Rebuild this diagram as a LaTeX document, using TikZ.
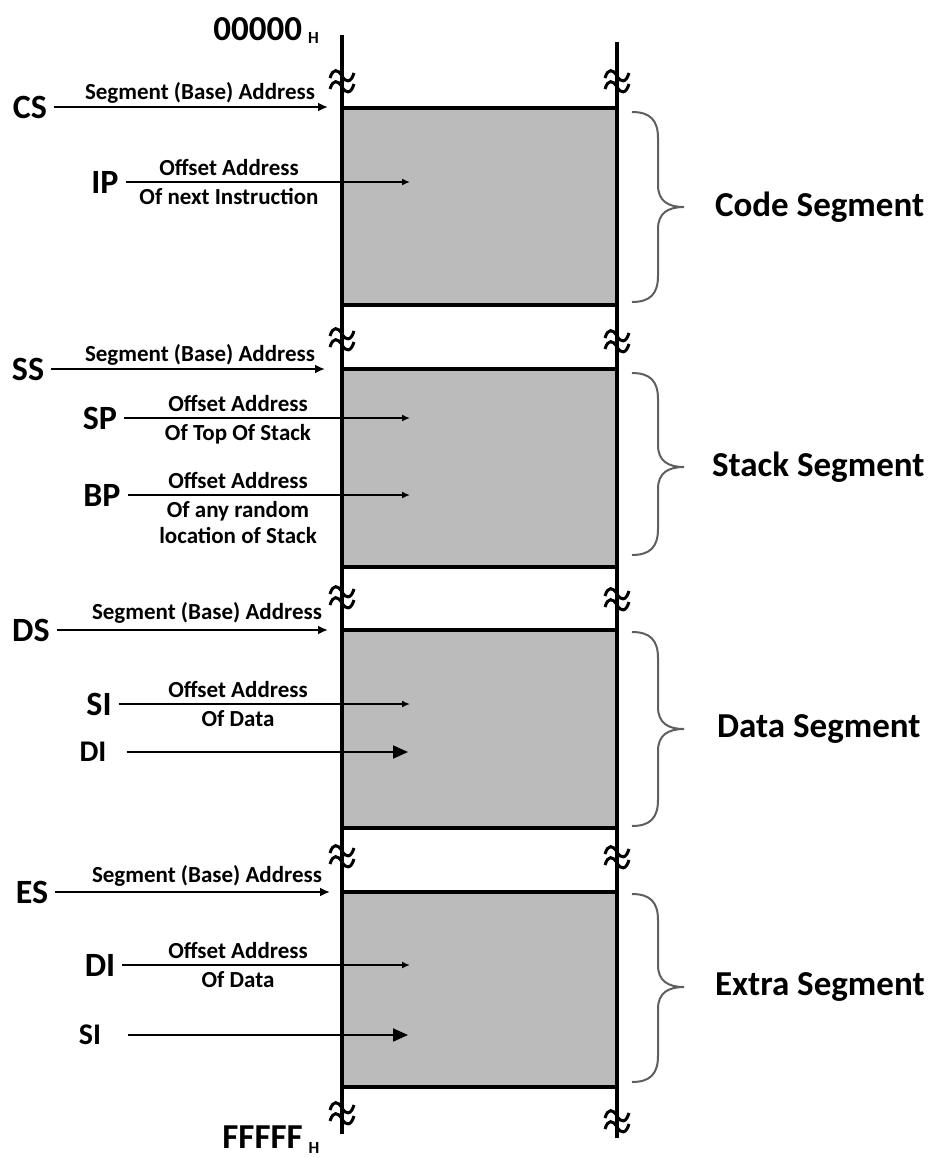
\documentclass[tikz,border=0pt]{standalone}
\usepackage{fontspec}
\setmainfont{Carlito}
\usetikzlibrary{arrows.meta}
\definecolor{segfill}{RGB}{187,187,187}
\definecolor{bracegray}{RGB}{95,95,95}
\newcommand{\HEX}[1]{\hspace{3pt}\raisebox{-#1}{\fontsize{8.5}{9}\selectfont H}}

\begin{document}
\begin{tikzpicture}[x=0.5pt,y=-0.5pt,
  reg/.style={font=\fontsize{17}{20}\selectfont\bfseries},
  newreg/.style={font=\fontsize{15}{18}\selectfont\bfseries},
  addr/.style={font=\fontsize{11.5}{13}\selectfont\bfseries,inner sep=0pt,align=center},
  seglab/.style={font=\fontsize{17.5}{20}\selectfont\bfseries,anchor=west},
  endlab/.style={font=\fontsize{17.5}{20}\selectfont\bfseries,anchor=base west,inner sep=0pt},
  segarrow/.style={line width=1.2pt,-{Latex[length=5pt,width=4.5pt]}},
  offarrow/.style={line width=0.9pt,-{Latex[length=4pt,width=3.5pt]}},
  newarrow/.style={line width=1pt,-{Triangle[length=7.5pt,width=6.5pt]}},
  brk/.pic={
    \draw[line width=1.5pt] (-12,-4) .. controls (-9,-14) and (-4,-13) .. (0,-6) .. controls (4,1) and (9,1) .. (12,-9);
    \draw[line width=1.5pt] (-12,7) .. controls (-9,-3) and (-4,-2) .. (0,5) .. controls (4,12) and (9,12) .. (12,2);
  }]
  \useasboundingbox (0,0) rectangle (932,1158);
  \foreach \t/\b in {108/305,369/567,630/828,892/1087}{
    \fill[segfill] (342,\t) rectangle (617,\b);
    \draw[line width=2pt] (342,\t) -- (617,\t) (342,\b) -- (617,\b);
  }
  \draw[line width=1.6pt] (342,35) -- (342,1134);
  \draw[line width=1.6pt] (617,42) -- (617,1138);
  \foreach \y in {82,340,598,857,1114}{\path (342,\y) pic{brk};}
  \foreach \y in {82,342,600,858,1122}{\path (617,\y) pic{brk};}
  \node[endlab] (top) at (213,40) {00000\HEX{1.5pt}};
  \node[endlab] (bottom) at (222,1148) {FFFFF\HEX{2.5pt}};
  \foreach \t/\b/\m/\x/\lab/\n in {112/302/207/708/Code Segment/code,373/555/467/705/Stack Segment/stack,632/826/729/710/Data Segment/data,894/1082/987/708/Extra Segment/extra}{
    \draw[bracegray,line width=1pt] (632,\t) .. controls (650,\t) and (658,{\t+8}) .. (658,{\t+26}) -- (658,{\m-22})
      .. controls (658,{\m-6}) and (668,\m) .. (684,\m) .. controls (668,\m) and (658,{\m+6}) .. (658,{\m+22})
      -- (658,{\b-26}) .. controls (658,{\b-8}) and (650,\b) .. (632,\b);
    \node[seglab] (\n) at (\x,\m) {\lab};
  }
  \foreach \n/\x/\y/\ex/\tx/\ty in {CS/30/107/328/200/93,SS/28/369/325/200/355,DS/31/630/328/207/613,ES/32/892/330/207/876}{
    \node[reg] (\n) at (\x,\y) {\n};
    \coordinate (\n-end) at (\ex,\y);
    \draw[segarrow] (\n) -- (\n-end);
    \node[addr] (\n-txt) at (\tx,\ty) {Segment (Base) Address};
  }
  \foreach \n/\lab/\x/\y/\tx/\sub in {IP/IP/105/182/229/Of next Instruction,SP/SP/100/418/238/Of Top Of Stack,BP/BP/102/495/238/{Of any random\\location of Stack},SIa/SI/99/704/238/Of Data,DIb/DI/100/965/238/Of Data}{
    \node[reg] (\n) at (\x,\y) {\lab};
    \coordinate (\n-end) at (410,\y);
    \draw[offarrow] (\n) -- (\n-end);
    \node[addr,anchor=south] (\n-up) at (\tx,{\y-6}) {Offset Address};
    \node[addr,anchor=north] (\n-low) at (\tx,{\y+6}) {\sub};
  }
  \node[newreg] (DIa) at (93,752) {DI};
  \coordinate (DIa-end) at (408,752);
  \draw[newarrow,shorten <=6.5pt] (DIa) -- (DIa-end);
  \node[newreg] (SIb) at (90,1035) {SI};
  \coordinate (SIb-end) at (408,1035);
  \draw[newarrow,shorten <=10pt] (SIb) -- (SIb-end);
\end{tikzpicture}
\end{document}
